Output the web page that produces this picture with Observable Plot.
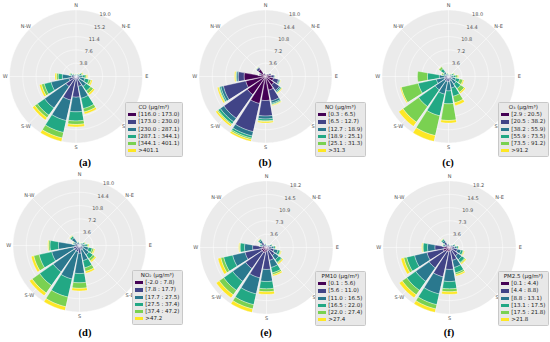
<!DOCTYPE html>
<html><head><meta charset="utf-8">
<script src="https://cdn.jsdelivr.net/npm/d3@7"></script>
<script src="https://cdn.jsdelivr.net/npm/@observablehq/plot@0.6"></script>
<style>
html,body{margin:0;padding:0;background:#fff;}
#fig{position:relative;width:550px;height:342px;overflow:hidden;font-family:"DejaVu Sans",sans-serif;}
.panel{position:absolute;width:183px;height:171px;}
.panel svg{position:absolute;left:0;top:0;overflow:visible;}
.legend{position:absolute;background:#e8e8e8;border:0.6px solid #c8c8c8;border-radius:1.5px;padding:1.5px 2.5px 1.5px 2px;font-size:5.5px;line-height:7.2px;color:#222;white-space:nowrap;}
.legend .lt{text-align:center;}
.legend .sw{display:inline-block;width:8px;height:3.2px;margin-right:2.2px;vertical-align:middle;}
.cap{position:absolute;font-family:"Liberation Serif",serif;font-weight:bold;font-size:10.5px;transform:translate(-50%,-50%);}
</style></head>
<body><div id="fig"></div>
<script>
// ---------- data ----------
const directions = ["N","NNE","NE","ENE","E","ESE","SE","SSE","S","SSW","SW","WSW","W","WNW","NW","NNW"];
const compassLabels = ["N","N-E","E","S-E","S","S-W","W","N-W"];
const binColors = ["#440154","#414487","#2a788e","#22a884","#7ad151","#fde725"];

const coTitle = "CO (μg/m³)";
const coBins = ["[116.0 : 173.0)","[173.0 : 230.0)","[230.0 : 287.1)","[287.1 : 344.1)","[344.1 : 401.1)",">401.1"];
const coTicks = [3.8, 7.6, 11.4, 15.2, 19.0];
const coValues = [
  [.1,.1,.25,.15,.05,.05],[.1,.1,.3,.15,.1,.05],[.1,.2,.4,.25,.15,.1],[.1,.3,.7,.6,.3,.2],
  [.2,.5,1.1,.8,.4,.3],[.2,.8,1.6,1.2,.6,.4],[.2,1.0,2.3,1.6,.9,.5],[.3,2.6,3.5,3.0,1.0,.6],
  [.4,5.5,4.2,2.6,1.0,.7],[.4,6.5,6.0,3.5,1.6,1.0],[.3,3.2,7.5,2.5,.9,.8],[.3,1.8,5.2,2.0,.8,.6],
  [.3,1.0,2.6,1.2,.5,.4],[.1,.4,.8,.4,.2,.1],[.1,.3,.45,.2,.1,.05],[.1,.2,.3,.1,.05,.05]
];

const noTitle = "NO (μg/m³)";
const noBins = ["[0.3 : 6.5)","[6.5 : 12.7)","[12.7 : 18.9)","[18.9 : 25.1)","[25.1 : 31.3)",">31.3"];
const noTicks = [3.6, 7.2, 10.8, 14.4, 18.0];
const noValues = [
  [.6,.15,.03,.01,.005,.005],[.55,.2,.03,.01,.005,.005],[.7,.25,.05,.03,.01,.01],[1.1,.5,.1,.05,.02,.03],
  [1.5,.8,.2,.1,.05,.05],[2.2,1.4,.3,.2,.1,.1],[2.8,1.8,.4,.3,.1,.2],[3.8,3.0,.6,.3,.2,.2],
  [6.5,4.2,.8,.5,.2,.4],[7.5,7.8,1.2,.6,.4,.5],[6.0,7.8,1.2,.7,.3,.5],[5.5,6.2,.7,.4,.2,.4],
  [5.8,1.6,.4,.2,.1,.3],[1.4,.4,.1,.05,.02,.03],[2.4,.6,.1,.1,.05,.05],[.8,.2,.05,.03,.01,.01]
];

const o3Title = "O₃ (μg/m³)";
const o3Bins = ["[2.9 : 20.5)","[20.5 : 38.2)","[38.2 : 55.9)","[55.9 : 73.5)","[73.5 : 91.2)",">91.2"];
const o3Ticks = [3.6, 7.2, 10.8, 14.4, 18.0];
const o3Values = [
  [.1,.15,.2,.2,.1,.05],[.1,.15,.2,.2,.1,.05],[.1,.2,.3,.25,.15,.05],[.1,.3,.5,.5,.3,.1],
  [.1,.4,.8,.7,.5,.2],[.2,.6,1.2,1.1,.9,.3],[.2,.8,1.5,1.5,1.2,.4],[.2,1.0,2.0,2.3,1.8,.8],
  [.2,1.2,2.5,3.5,4.5,.7],[.2,1.2,3.5,6.0,5.5,1.6],[.2,1.2,3.0,5.5,5.2,1.4],[.2,1.0,2.2,5.0,4.7,.3],
  [.2,.8,1.5,3.2,2.7,0],[.1,.3,.5,.6,.4,.1],[.2,.5,.9,1.0,.6,.1],[.1,.2,.3,.3,.15,.05]
];

const no2Title = "NO₂ (μg/m³)";
const no2Bins = ["[-2.0 : 7.8)","[7.8 : 17.7)","[17.7 : 27.5)","[27.5 : 37.4)","[37.4 : 47.2)",">47.2"];
const no2Ticks = [3.6, 7.2, 10.8, 14.4, 18.0];
const no2Values = [
  [.1,.2,.3,.1,.05,.05],[.1,.2,.3,.1,.05,.05],[.1,.2,.4,.2,.05,.05],[.1,.3,.7,.4,.2,.1],
  [.1,.4,1.0,.6,.3,.2],[.2,.7,1.6,1.0,.5,.3],[.2,.9,2.0,1.3,.7,.4],[.2,1.0,3.0,2.0,1.0,.5],
  [.3,1.8,5.5,2.5,1.5,.7],[.2,1.5,7.6,5.0,2.7,1.0],[.2,1.5,7.0,4.5,2.5,.9],[.2,1.5,6.0,3.5,1.5,.7],
  [.2,1.0,4.5,2.3,.4,.2],[.1,.4,1.0,.3,.1,.1],[.2,.8,1.6,.5,.2,.1],[.1,.3,.5,.2,.05,.05]
];

const pm10Title = "PM10 (μg/m³)";
const pm10Bins = ["[0.1 : 5.6)","[5.6 : 11.0)","[11.0 : 16.5)","[16.5 : 22.0)","[22.0 : 27.4)",">27.4"];
const pm10Ticks = [3.6, 7.3, 10.9, 14.5, 18.2];
const pm10Values = [
  [.2,.3,.2,.08,.01,.01],[.2,.3,.2,.08,.01,.01],[.2,.35,.25,.15,.03,.02],[.3,.6,.5,.3,.05,.05],
  [.4,.9,.7,.4,.1,.1],[.6,1.5,1.1,.6,.2,.2],[.7,2.0,1.4,.9,.3,.3],[.8,2.8,2.0,1.5,.5,.4],
  [1.0,5.0,3.3,2.0,.8,.7],[1.5,7.0,4.5,3.0,1.2,.96],[1.5,5.5,4.3,3.0,1.5,1.0],[1.5,4.5,3.5,2.5,.8,.8],
  [1.2,2.6,2.2,1.2,.2,.2],[.4,.7,.5,.3,.05,.05],[.6,1.1,.7,.4,.1,.1],[.3,.4,.3,.15,.03,.02]
];

const pm25Title = "PM2.5 (μg/m³)";
const pm25Bins = ["[0.1 : 4.4)","[4.4 : 8.8)","[8.8 : 13.1)","[13.1 : 17.5)","[17.5 : 21.8)",">21.8"];
const pm25Ticks = [3.6, 7.3, 10.9, 14.5, 18.2];
const pm25Values = [
  [.25,.3,.15,.08,.01,.01],[.25,.3,.15,.08,.01,.01],[.25,.35,.2,.15,.03,.02],[.4,.6,.4,.3,.05,.05],
  [.5,.9,.6,.4,.1,.1],[.7,1.5,1.0,.6,.2,.2],[.8,2.0,1.3,.9,.3,.3],[.8,2.8,2.0,1.5,.5,.4],
  [1.0,5.0,3.3,2.0,.8,.7],[1.2,7.0,4.8,3.0,1.2,.96],[1.3,5.5,4.5,3.0,1.5,1.0],[1.8,4.5,3.5,2.2,.8,.8],
  [1.5,2.5,2.0,1.2,.2,.2],[.5,.7,.4,.3,.05,.05],[.7,1.1,.6,.4,.1,.1],[.35,.4,.25,.15,.03,.02]
];

const captions = ["(a)","(b)","(c)","(d)","(e)","(f)"];

// ---------- layout (positions only) ----------
const panels = [
  {title: coTitle, bins: coBins, ticks: coTicks, values: coValues, x: 0, y: 0, cx: 75.5, cy: 76, legBottom: 14, capX: 85, capY: 162},
  {title: noTitle, bins: noBins, ticks: noTicks, values: noValues, x: 183, y: 0, cx: 82, cy: 76, legBottom: 14, capX: 82, capY: 162},
  {title: o3Title, bins: o3Bins, ticks: o3Ticks, values: o3Values, x: 366, y: 0, cx: 82, cy: 76, legBottom: 14, capX: 82, capY: 162},
  {title: no2Title, bins: no2Bins, ticks: no2Ticks, values: no2Values, x: 0, y: 171, cx: 79, cy: 74, legBottom: 17, capX: 85, capY: 161},
  {title: pm10Title, bins: pm10Bins, ticks: pm10Ticks, values: pm10Values, x: 183, y: 171, cx: 83, cy: 76, legBottom: 16, capX: 83, capY: 161},
  {title: pm25Title, bins: pm25Bins, ticks: pm25Ticks, values: pm25Values, x: 366, y: 171, cx: 83, cy: 76, legBottom: 16, capX: 83, capY: 161}
];
const R = 66.5, PW = 183, PH = 171, opening = 0.87;

function sectorGeom(theta, halfW, r0, r1) {
  const n = 10, pts = [];
  r0 = Math.max(r0, 0.002);
  for (let k = 0; k <= n; k++) { const a = theta - halfW + 2 * halfW * k / n; pts.push([180 - a, 90 - r1]); }
  for (let k = n; k >= 0; k--) { const a = theta - halfW + 2 * halfW * k / n; pts.push([180 - a, 90 - r0]); }
  pts.push(pts[0].slice());
  const poly = {type: "Polygon", coordinates: [pts]};
  if (d3.geoArea(poly) > 2 * Math.PI) pts.reverse();
  return poly;
}

const fig = document.getElementById("fig");
panels.forEach((p, pi) => {
  const sums = p.values.map(r => d3.sum(r));
  const rmax = d3.max(sums);
  const sectors = [];
  p.values.forEach((row, i) => {
    let cum = 0;
    row.forEach((v, j) => {
      if (v > 0) sectors.push({dir: directions[i], bin: p.bins[j], geom: sectorGeom(i * 22.5, 22.5 * opening / 2, cum, cum + v)});
      cum += v;
    });
  });
  const spokes = d3.range(0, 360, 45);
  const div = document.createElement("div");
  div.className = "panel";
  div.style.left = p.x + "px"; div.style.top = p.y + "px";
  const chart = Plot.plot({
    width: PW, height: PH,
    marginLeft: p.cx - R, marginRight: PW - p.cx - R, marginTop: p.cy - R, marginBottom: PH - p.cy - R,
    style: {background: "transparent", fontFamily: "DejaVu Sans", overflow: "visible"},
    projection: {type: "azimuthal-equidistant", rotate: [0, -90], clip: false, domain: d3.geoCircle().center([0, 90]).radius(rmax)()},
    color: {domain: p.bins, range: binColors},
    marks: [
      Plot.geo([d3.geoCircle().center([0, 90]).radius(rmax)()], {fill: "#ebebeb", stroke: "none"}),
      Plot.geo(p.ticks, {geometry: t => d3.geoCircle().center([0, 90]).radius(t)(), fill: "none", stroke: "white", strokeWidth: 0.5}),
      Plot.link(spokes, {x1: a => 180 - a, y1: 90, x2: a => 180 - a, y2: 90 - rmax, stroke: "white", strokeWidth: 0.5}),
      Plot.geo(sectors, {geometry: d => d.geom, fill: d => d.bin, stroke: "white", strokeWidth: 0.35}),
      Plot.text(compassLabels, {x: (d, i) => 180 - i * 45, y: 90 - rmax * 1.065, text: d => d, fontSize: 5, fill: "#555"}),
      Plot.text(p.ticks, {x: 180 - 24, y: t => 90 - t, text: t => t.toFixed(1), fontSize: 5, fill: "#555", dx: 2, dy: -1})
    ]
  });
  div.appendChild(chart);
  // legend
  const leg = document.createElement("div");
  leg.className = "legend";
  leg.style.right = "0px"; leg.style.bottom = p.legBottom + "px";
  const lt = document.createElement("div"); lt.className = "lt"; lt.textContent = p.title; leg.appendChild(lt);
  p.bins.forEach((b, j) => {
    const row = document.createElement("div");
    const sw = document.createElement("span"); sw.className = "sw"; sw.style.background = binColors[j];
    row.appendChild(sw); row.appendChild(document.createTextNode(b));
    leg.appendChild(row);
  });
  div.appendChild(leg);
  const cap = document.createElement("div");
  cap.className = "cap"; cap.textContent = captions[pi];
  cap.style.left = p.capX + "px"; cap.style.top = p.capY + "px";
  div.appendChild(cap);
  fig.appendChild(div);
});
</script>
</body></html>
